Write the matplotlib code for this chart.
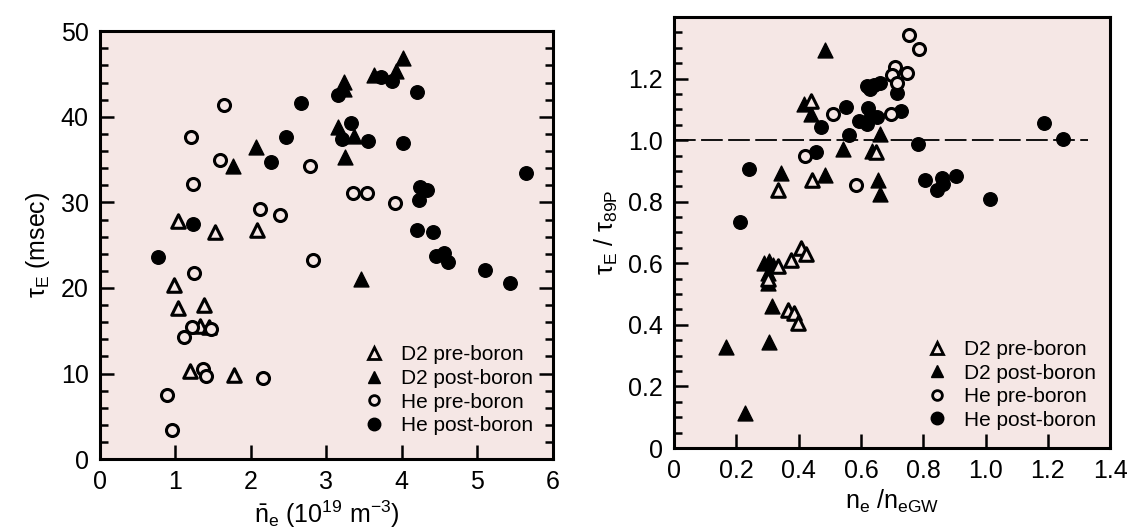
import numpy as np
import matplotlib
matplotlib.use("Agg")
import matplotlib.pyplot as plt
from matplotlib.lines import Line2D
from matplotlib.ticker import MultipleLocator

plt.rcParams['font.family'] = ['Liberation Sans', 'DejaVu Sans']
plt.rcParams['mathtext.fontset'] = 'custom'
plt.rcParams['mathtext.rm'] = 'Liberation Sans'
plt.rcParams['mathtext.it'] = 'Liberation Sans:italic'

# ── left panel: tau_E vs line-averaged density ──
L_d2_pre_x  = [1.04, 1.53, 2.08, 0.98, 1.03, 1.38, 1.33, 1.44, 1.20, 1.78]
L_d2_pre_y  = [27.8, 26.5, 26.8, 20.3, 17.7, 18.0, 15.6, 15.5, 10.3, 9.8]
L_d2_post_x = [4.01, 3.63, 3.92, 3.23, 3.24, 3.15, 3.37, 3.25, 2.07, 1.76, 3.46]
L_d2_post_y = [46.9, 44.9, 45.4, 44.1, 43.2, 38.8, 37.8, 35.3, 36.5, 34.2, 21.1]
L_he_pre_x  = [1.65, 1.21, 1.59, 2.79, 1.24, 2.12, 2.39, 2.82, 1.25, 1.22, 1.47, 1.11,
               1.37, 1.41, 2.16, 0.89, 0.96, 3.36, 3.54, 3.91]
L_he_pre_y  = [41.4, 37.6, 34.9, 34.3, 32.1, 29.2, 28.5, 23.3, 21.8, 15.5, 15.2, 14.3,
               10.5, 9.7, 9.5, 7.5, 3.4, 31.1, 31.1, 29.9]
L_he_post_x = [3.73, 3.87, 3.15, 4.20, 2.66, 3.33, 3.21, 3.55, 4.02, 2.47, 2.27, 1.23,
               0.77, 4.24, 4.34, 4.23, 5.64, 4.20, 4.41, 4.45, 4.56, 4.61, 5.10, 5.44]
L_he_post_y = [44.6, 44.2, 42.6, 42.9, 41.6, 39.3, 37.4, 37.2, 36.9, 37.6, 34.7, 27.5,
               23.6, 31.8, 31.5, 30.3, 33.4, 26.8, 26.5, 23.7, 24.1, 23.0, 22.1, 20.6]

# ── right panel: tau_E / tau_89P vs Greenwald fraction ──
R_d2_pre_x  = [0.441, 0.648, 0.334, 0.443, 0.332, 0.374, 0.407, 0.424, 0.300, 0.366, 0.384, 0.398]
R_d2_pre_y  = [1.126, 0.962, 0.839, 0.870, 0.590, 0.610, 0.650, 0.631, 0.548, 0.449, 0.440, 0.405]
R_d2_post_x = [0.486, 0.417, 0.441, 0.662, 0.541, 0.636, 0.342, 0.484, 0.654, 0.662,
               0.290, 0.305, 0.316, 0.300, 0.300, 0.315, 0.306, 0.165, 0.228]
R_d2_post_y = [1.291, 1.118, 1.086, 1.020, 0.970, 0.966, 0.892, 0.887, 0.869, 0.824,
               0.602, 0.607, 0.596, 0.569, 0.537, 0.460, 0.343, 0.327, 0.113]
R_he_pre_x  = [0.755, 0.787, 0.709, 0.747, 0.701, 0.715, 0.509, 0.698, 0.420, 0.583]
R_he_pre_y  = [1.340, 1.296, 1.238, 1.219, 1.212, 1.185, 1.085, 1.084, 0.948, 0.855]
R_he_post_x = [0.716, 0.618, 0.641, 0.662, 0.628, 0.553, 0.622, 0.595, 0.619, 0.651,
               0.633, 0.729, 0.471, 0.562, 0.784, 1.187, 1.250, 0.455, 0.240, 0.807,
               0.860, 0.905, 0.844, 0.865, 1.013, 0.212]
R_he_post_y = [1.153, 1.176, 1.178, 1.184, 1.165, 1.107, 1.103, 1.061, 1.052, 1.075,
               1.079, 1.095, 1.041, 1.016, 0.986, 1.056, 1.005, 0.962, 0.905, 0.869,
               0.878, 0.883, 0.839, 0.857, 0.808, 0.733]
ref_line_x = [0.0, 1.33]
ref_line_y = [1.0, 1.0]

legend_labels = ["D2 pre-boron", "D2 post-boron", "He pre-boron", "He post-boron"]

BG = "#f5e7e5"
FS = 18


def draw_series(ax, d2_pre, d2_post, he_pre, he_post):
    ax.scatter(*he_post, s=95, marker='o', color='black', zorder=3)
    ax.scatter(*d2_post, s=115, marker='^', color='black', zorder=3)
    ax.scatter(*d2_pre, s=95, marker='^', facecolor=BG, edgecolor='black', linewidths=2.2, zorder=4)
    ax.scatter(*he_pre, s=75, marker='o', facecolor=BG, edgecolor='black', linewidths=2.2, zorder=4)


def style(ax):
    ax.set_facecolor(BG)
    for s in ax.spines.values():
        s.set_linewidth(2.2)
    ax.tick_params(which='major', direction='in', length=10, width=1.8, labelsize=FS, pad=8)
    ax.tick_params(which='minor', direction='in', length=6, width=1.8)


def add_legend(ax, anchor):
    handles = [
        Line2D([], [], ls='none', marker='^', ms=8, mfc=BG, mec='black', mew=2),
        Line2D([], [], ls='none', marker='^', ms=9, color='black'),
        Line2D([], [], ls='none', marker='o', ms=7, mfc=BG, mec='black', mew=2),
        Line2D([], [], ls='none', marker='o', ms=9, color='black'),
    ]
    ax.legend(handles, legend_labels, loc='upper left', bbox_to_anchor=anchor, frameon=False,
              fontsize=15, handlelength=1.0, handletextpad=0.8, labelspacing=0.22, borderpad=0)


fig = plt.figure(figsize=(11.35, 5.29), dpi=100)
fig.patch.set_facecolor('white')

# left
ax1 = fig.add_axes([0.088, 0.132, 0.399, 0.809])
style(ax1)
draw_series(ax1, (L_d2_pre_x, L_d2_pre_y), (L_d2_post_x, L_d2_post_y),
            (L_he_pre_x, L_he_pre_y), (L_he_post_x, L_he_post_y))
ax1.set_xlim(0, 6)
ax1.set_ylim(0, 50)
ax1.xaxis.set_major_locator(MultipleLocator(1))
ax1.yaxis.set_major_locator(MultipleLocator(10))
ax1.yaxis.set_minor_locator(MultipleLocator(2))
ax1.tick_params(which='both', left=True, right=True, top=False)
ax1.set_ylabel('τ$_\\mathrm{E}$ (msec)', fontsize=FS, labelpad=6)
ax1.set_xlabel(r'$\bar{\mathrm{n}}_\mathrm{e}$ (10$^{19}$ m$^{-3}$)', fontsize=FS, labelpad=3)
add_legend(ax1, (0.56, 0.29))

# right
ax2 = fig.add_axes([0.594, 0.153, 0.384, 0.815])
style(ax2)
ax2.plot(ref_line_x, ref_line_y, color='black', lw=1.3, ls=(0, (12, 3)), zorder=2)
draw_series(ax2, (R_d2_pre_x, R_d2_pre_y), (R_d2_post_x, R_d2_post_y),
            (R_he_pre_x, R_he_pre_y), (R_he_post_x, R_he_post_y))
ax2.set_xlim(0, 1.4)
ax2.set_ylim(0, 1.4)
ax2.set_xticks(np.arange(0, 1.41, 0.2), ["0", "0.2", "0.4", "0.6", "0.8", "1.0", "1.2", "1.4"])
ax2.set_yticks(np.arange(0, 1.21, 0.2), ["0", "0.2", "0.4", "0.6", "0.8", "1.0", "1.2"])
ax2.yaxis.set_minor_locator(MultipleLocator(0.05))
ax2.tick_params(which='both', right=False, top=False)
ax2.set_ylabel('τ$_\\mathrm{E}$ / τ$_\\mathrm{89P}$', fontsize=FS, labelpad=6)
ax2.set_xlabel(r'n$_\mathrm{e}$ /n$_\mathrm{eGW}$', fontsize=FS, labelpad=3)
add_legend(ax2, (0.555, 0.275))

fig.savefig("out.png", dpi=100, facecolor='white')
